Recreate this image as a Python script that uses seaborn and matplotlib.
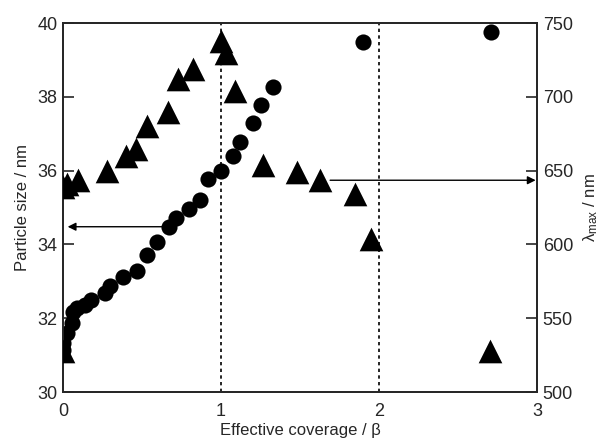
import matplotlib
matplotlib.use("Agg")
import matplotlib.pyplot as plt
import seaborn as sns
import pandas as pd

# particle size (circles, left axis)
size_x = [0.0, 0.0, 0.023, 0.055, 0.065, 0.087, 0.14, 0.18, 0.266, 0.297,
          0.38, 0.466, 0.53, 0.595, 0.668, 0.715, 0.80, 0.87, 0.92, 1.0,
          1.075, 1.12, 1.20, 1.25, 1.33, 1.90, 2.707]
size_nm = [31.14, 31.33, 31.59, 31.86, 32.18, 32.28, 32.36, 32.49, 32.69, 32.87,
           33.12, 33.28, 33.71, 34.07, 34.47, 34.73, 34.97, 35.21, 35.77, 35.98,
           36.39, 36.78, 37.28, 37.78, 38.27, 39.49, 39.76]

# lambda max (triangles, right axis)
lam_x = [0.0, 0.0, 0.023, 0.097, 0.277, 0.40, 0.462, 0.53, 0.667, 0.73,
         0.82, 1.0, 1.03, 1.09, 1.268, 1.48, 1.627, 1.85, 1.95, 2.70]
lam_nm = [528, 639, 641, 644, 650, 660, 665, 680, 690, 712,
          719, 738, 730, 704, 654, 649, 644, 634, 604, 528]

df_size = pd.DataFrame({"beta": size_x, "size": size_nm})
df_lam = pd.DataFrame({"beta": lam_x, "lam": lam_nm})

sns.set_style("ticks")
plt.rcParams["font.family"] = ["Liberation Sans", "DejaVu Sans"]
plt.rcParams["mathtext.fontset"] = "custom"
plt.rcParams["mathtext.rm"] = "Liberation Sans"
plt.rcParams["mathtext.it"] = "Liberation Sans"

fig = plt.figure(figsize=(6.05, 4.43), dpi=100)
ax = fig.add_axes([0.104, 0.115, 0.784, 0.833])
ax2 = ax.twinx()

sns.scatterplot(data=df_size, x="beta", y="size", ax=ax, marker="o", s=135,
                color="black", edgecolor="black", linewidth=0, zorder=3)
sns.scatterplot(data=df_lam, x="beta", y="lam", ax=ax2, marker="^", s=290,
                color="black", edgecolor="black", linewidth=0, zorder=3)

for xv in [1, 2]:
    ax.axvline(xv, color="black", ls=(0, (2, 2)), lw=1.2, zorder=1)

ax.set_xlim(0, 3)
ax.set_ylim(30, 40)
ax2.set_ylim(500, 750)
ax.set_xticks([0, 1, 2, 3])
ax.set_yticks([30, 32, 34, 36, 38, 40])
ax2.set_yticks([500, 550, 600, 650, 700, 750])

ax.set_xlabel("Effective coverage / β", fontsize=12, labelpad=2)
ax.set_ylabel("Particle size / nm", fontsize=12, labelpad=5)
ax2.set_ylabel(r"λ$_{\mathrm{max}}$ / nm", fontsize=12, labelpad=6)

for a in (ax, ax2):
    a.tick_params(direction="in", length=8, width=1.2, labelsize=13, pad=4)
    for sp in a.spines.values():
        sp.set_linewidth(1.3)
        sp.set_visible(True)
ax.tick_params(axis="x", length=0, pad=8)

ax.annotate("", xy=(0.03, 34.48), xytext=(0.63, 34.48),
            arrowprops=dict(arrowstyle="-|>", color="black", lw=1.0,
                            mutation_scale=12, shrinkA=0, shrinkB=0))
ax2.annotate("", xy=(2.99, 643.5), xytext=(1.69, 643.5),
             arrowprops=dict(arrowstyle="-|>", color="black", lw=1.0,
                             mutation_scale=12, shrinkA=0, shrinkB=0))

fig.savefig("out.png", dpi=100)
